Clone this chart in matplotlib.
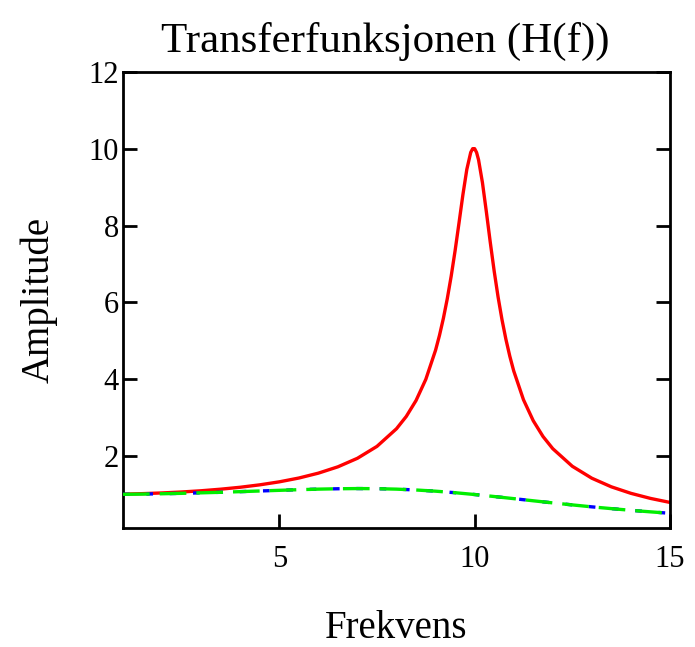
import matplotlib
matplotlib.use('Agg')
import matplotlib.pyplot as plt

# Frequency points and amplitudes
freq_red = [1.0, 1.5, 2.0, 2.5, 3.0, 3.5, 4.0, 4.5, 5.0, 5.5, 6.0, 6.5, 7.0, 7.5,
            8.0, 8.25, 8.5, 8.75, 9.0, 9.1, 9.2, 9.3, 9.4, 9.5, 9.6, 9.7, 9.8,
            9.9, 9.95, 10.0, 10.05, 10.1, 10.2, 10.3, 10.4, 10.5, 10.6, 10.7,
            10.8, 10.9, 11.0, 11.25, 11.5, 11.75, 12.0, 12.5, 13.0, 13.5, 14.0,
            14.5, 15.0]
amp_red = [1.010, 1.023, 1.041, 1.066, 1.098, 1.139, 1.189, 1.252, 1.330, 1.429,
           1.556, 1.721, 1.943, 2.253, 2.712, 3.032, 3.446, 3.997, 4.756, 5.141,
           5.585, 6.097, 6.684, 7.346, 8.068, 8.804, 9.461, 9.903, 10.0, 10.0,
           9.90, 9.711, 9.115, 8.357, 7.565, 6.815, 6.141, 5.552, 5.041, 4.600,
           4.218, 3.467, 2.921, 2.510, 2.193, 1.735, 1.424, 1.200, 1.031, 0.899,
           0.794]

freq_green = [1.0, 1.5, 2.0, 2.5, 3.0, 3.5, 4.0, 4.5, 5.0, 5.5, 6.0, 6.5, 7.0,
              7.5, 8.0, 8.5, 9.0, 9.5, 10.0, 10.5, 11.0, 11.5, 12.0, 12.5, 13.0,
              13.5, 14.0, 14.5, 15.0]
amp_green = [1.005, 1.011, 1.020, 1.031, 1.044, 1.058, 1.075, 1.092, 1.109, 1.126,
             1.140, 1.150, 1.155, 1.152, 1.140, 1.118, 1.087, 1.047, 1.000, 0.948,
             0.893, 0.837, 0.782, 0.730, 0.679, 0.633, 0.589, 0.549, 0.512]

x_ticks = [5, 10, 15]
y_ticks = [2, 4, 6, 8, 10, 12]

plt.rcParams['font.family'] = ['Liberation Serif', 'DejaVu Serif']

fig = plt.figure(figsize=(6.95, 6.47), dpi=100)
ax = fig.add_axes([0.177, 0.184, 0.787, 0.705])

ax.plot(freq_red, amp_red, color='#ff0000', lw=2.4, zorder=2)
ax.plot(freq_green, amp_green, color='#0000ff', lw=2.4, linestyle=(0, (2, 5)), zorder=3)
ax.plot(freq_green, amp_green, color='#00ee00', lw=2.4, linestyle=(0, (8, 3)), zorder=4)

ax.set_xlim(1, 15)
ax.set_ylim(0.13, 12)
ax.set_xticks(x_ticks)
ax.set_yticks(y_ticks)

for s in ax.spines.values():
    s.set_linewidth(2)
ax.tick_params(direction='in', length=10, width=2, labelsize=22)
ax.tick_params(axis='y', right=True, pad=3)
ax.tick_params(axis='x', pad=12)

ax.set_title('Transferfunksjonen (H(f))', fontsize=31, pad=14, x=0.48)
ax.set_xlabel('Frekvens', fontsize=28, labelpad=26)
ax.set_ylabel('Amplitude', fontsize=28, labelpad=22)

plt.savefig('out.png', dpi=100)
